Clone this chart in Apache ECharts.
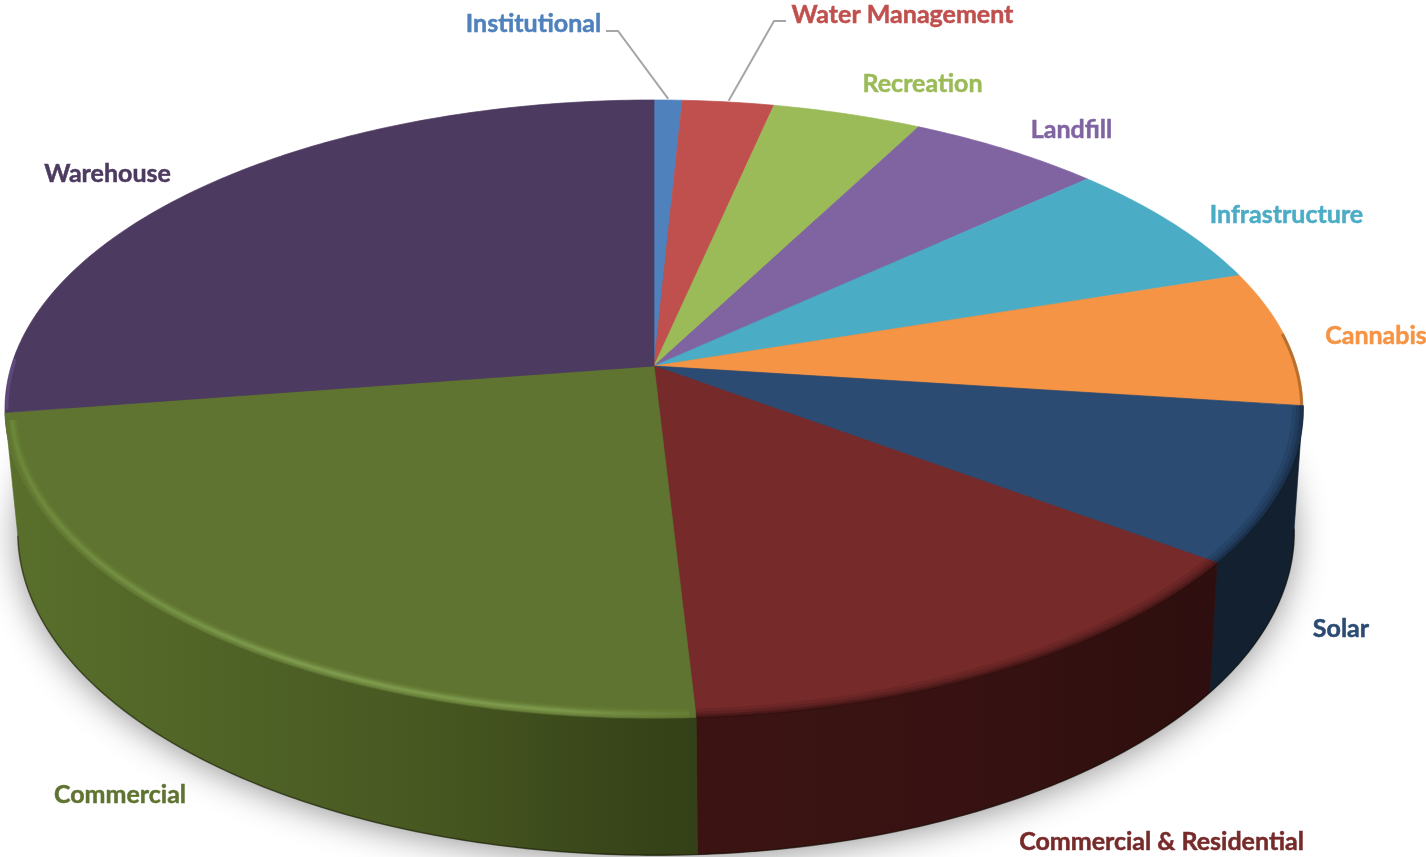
<!DOCTYPE html>
<html><head><meta charset="utf-8">
<style>html,body{margin:0;padding:0;background:#fff}#c{width:1426px;height:857px}</style>
<script src="https://cdn.jsdelivr.net/npm/echarts@6/dist/echarts.min.js"></script>
</head><body><div id="c"></div>
<script>
const categories = ['Institutional','Water Management','Recreation','Landfill','Infrastructure','Cannabis','Solar','Commercial & Residential','Commercial','Warehouse'];
const values = [0.8,2.6,4.25,5.55,6.75,7.1,8.1,13.95,23.5,27.4];
const colors = ['#4f81bd','#c0504d','#9bbb59','#8064a2','#4bacc6','#f59445','#2b4b73','#772a2a','#5f7430','#4d3a60'];

// perspective model of the pie's top and bottom discs
const tilt = 0.139;
const topDisc = {cx:654, cy:366, a:303, b:642.7};
const baseDisc = {cx:656, cy:487, a:317, b:632};
const project = (d, deg, r=1) => {
  const t = deg*Math.PI/180, u = r*Math.sin(t), v = r*Math.cos(t), w = 1+tilt*v;
  return [d.cx + d.b*u/w, d.cy - d.a*v/w];
};
const arc = (d, from, to, r=1) => {
  const n = Math.max(2, Math.ceil(Math.abs(to-from)*1.5)), out = [];
  for (let i=0;i<=n;i++) out.push(project(d, from+(to-from)*i/n, r));
  return out;
};
const total = values.reduce((s,v)=>s+v,0);
const spans = []; { let c=0; values.forEach(v=>{ spans.push([c/total*360,(c+v)/total*360]); c+=v; }); }

// label layout: centre of text, plus optional leader elbow
const labelCentres = [[533.5,24],[902.5,15],[922.5,84],[1071.5,130],[1286.5,215],[1376,336],[1341,629],[1161.5,842],[120,795],[107.5,174]];
const leaderElbows = {0:[[606,31],[618,31]],1:[[786,21],[774,21]]};

const hGrad = stops => ({type:'linear',global:true,x:stops[0][0],y:0,x2:stops[stops.length-1][0],y2:0,
  colorStops:stops.map(s=>({offset:(s[0]-stops[0][0])/(stops[stops.length-1][0]-stops[0][0]),color:s[1]}))});
const sideFill = {
  6:'#12202f',
  7:hGrad([[695,'#3b1313'],[950,'#381212'],[1209,'#2e0e0e']]),
  8:hGrad([[10,'#596f2b'],[250,'#4f6226'],[450,'#465620'],[600,'#39471a'],[695,'#344017']])
};
const rimHighlight = hGrad([[6,'#6f8c3b'],[300,'#86a555'],[560,'#83a251'],[695,'#667e35']]);
const rimDark = {5:'#7a4a18',6:'#0f1c2b',7:'#2e0e0e',9:'#65508c'};

const option = {
  animation:false, backgroundColor:'#fff',
  series:[
    {type:'custom',coordinateSystem:'none',silent:true,z:1,data:[[total]],
     renderItem(){ return {type:'polygon',shape:{points:arc(baseDisc,0,360)},
       style:{fill:'#555',shadowBlur:34,shadowColor:'rgba(0,0,0,0.42)',shadowOffsetX:0,shadowOffsetY:4}}; }},
    {type:'custom',coordinateSystem:'none',silent:true,z:2,data:values.map(v=>[v]),
     renderItem(p){ const i=p.dataIndex; if(!sideFill[i]) return {type:'group',children:[]};
       const [a,b]=spans[i];
       const pts=arc(topDisc,a,b).concat(arc(baseDisc,b,a));
       return {type:'group',children:[
         {type:'polygon',shape:{points:pts},style:{fill:sideFill[i],stroke:sideFill[i],lineWidth:0.6}},
         {type:'polyline',shape:{points:arc(baseDisc,a,b)},style:{fill:null,stroke:'rgba(15,15,5,0.45)',lineWidth:1.6}}
       ]}; }},
    {type:'custom',coordinateSystem:'none',silent:true,z:3,data:values.map(v=>[v]),
     renderItem(p){ const i=p.dataIndex, [a,b]=spans[i];
       const pts=[[topDisc.cx,topDisc.cy]].concat(arc(topDisc,a,b));
       return {type:'polygon',shape:{points:pts},style:{fill:colors[i],stroke:colors[i],lineWidth:0.7}}; }},
    {type:'custom',coordinateSystem:'none',silent:true,z:4,data:values.map(v=>[v]),
     renderItem(p){ const i=p.dataIndex, [a,b]=spans[i], kids=[];
       const line=(pts,stroke,w,o)=>kids.push({type:'polyline',shape:{points:pts},style:{fill:null,stroke,lineWidth:w,opacity:o,lineCap:'butt'}});
       if(i===8){
         const e=arc(topDisc,a+0.5,b-1.5,0.99);
         line(e,rimHighlight,11,0.14); line(e,rimHighlight,7.5,0.24); line(e,rimHighlight,4.5,0.38); line(e,rimHighlight,2,0.5);
       } else if(i===6||i===7){
         const c=rimDark[i];
         [[0.99,9,0.14],[0.994,6,0.2],[0.998,4,0.3],[1.0,2,0.4]].forEach(([r,w,o])=>line(arc(topDisc,a,b,r),c,w,o));
       } else if(i===5){
         line(arc(topDisc,a+12,b,0.998),rimDark[i],3,0.5);
       } else if(i===9){
         line(arc(topDisc,a+0.5,a+10,0.997),rimDark[i],3,0.7);
       }
       return {type:'group',children:kids}; }},
    {type:'custom',coordinateSystem:'none',silent:true,z:5,data:values.map(v=>[v]),
     renderItem(p){ const i=p.dataIndex, [x,y]=labelCentres[i], kids=[];
       kids.push({type:'text',x,y,style:{text:categories[i],fill:colors[i],stroke:colors[i],lineWidth:0.5,font:'bold 25px Lato',align:'center',verticalAlign:'middle',textAlign:'center',textVerticalAlign:'middle'}});
       if(leaderElbows[i]){
         const [a,b]=spans[i];
         kids.push({type:'polyline',shape:{points:leaderElbows[i].concat([project(topDisc,(a+b)/2,1.005)])},
           style:{fill:null,stroke:'#a6a6a6',lineWidth:2}});
       }
       return {type:'group',children:kids}; }}
  ]
};
echarts.init(document.getElementById('c'),null,{renderer:'canvas',width:1426,height:857}).setOption(option);
</script></body></html>
